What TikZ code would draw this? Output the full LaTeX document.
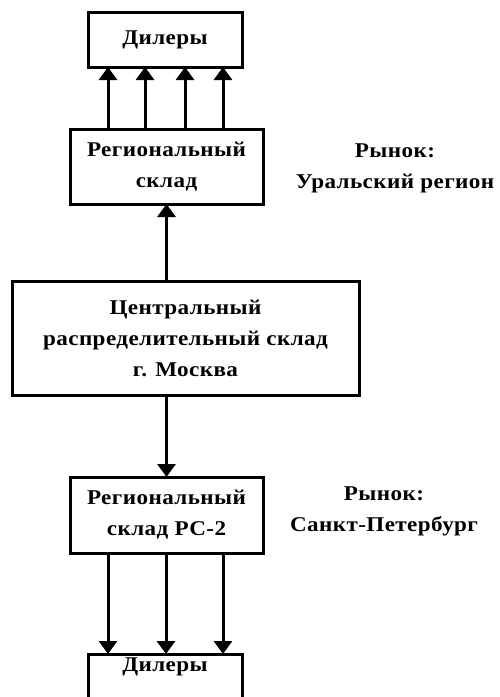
\documentclass[tikz,border=0pt]{standalone}
\usepackage{fontspec}
\setmainfont[LetterSpace=2,FakeStretch=1.1]{Liberation Serif}
\usetikzlibrary{arrows.meta}
\tikzset{
  box/.style={draw, line width=3pt, rectangle, inner sep=0pt, align=center, font=\fontsize{21}{31}\selectfont\bfseries},
  lbl/.style={align=center, inner sep=0pt, font=\fontsize{21}{31}\selectfont\bfseries},
  arr/.style={line width=3pt, -{Triangle[width=18pt,length=13pt]}, shorten >=-1.5pt}
}
\begin{document}
\begin{tikzpicture}[x=1pt,y=-1pt]
\useasboundingbox (0,0) rectangle (499,697);
\node[box, minimum width=154pt, minimum height=55pt] (d1) at (165,39.5) {Дилеры};
\node[box, minimum width=193pt, minimum height=75pt] (r1) at (166.5,166.5) {Региональный\\склад};
\node[box, minimum width=347pt, minimum height=114pt] (c) at (185.5,338) {Центральный\\распределительный склад\\г. Москва};
\node[box, minimum width=193pt, minimum height=76pt] (r2) at (166.5,515) {Региональный\\склад РС-2};
\node[box, minimum width=154pt, minimum height=56pt] (d2) at (165,682) {};
\node[lbl] (d2t) at (165,667) {Дилеры};
\node[lbl] (m1) at (395,168) {Рынок:\\Уральский регион};
\node[lbl] (m2) at (384,511) {Рынок:\\Санкт-Петербург};
\foreach \dx in {-58.5,-21.5,18.5,56.5}
  \draw[arr] ([xshift=\dx pt]r1.north) -- ([xshift=\dx pt]r1.north |- d1.south);
\draw[arr] (c.north -| r1.south) -- (r1.south);
\draw[arr] (c.south -| r2.north) -- (r2.north);
\foreach \dx in {-58.5,-0.5,56.5}
  \draw[arr] ([xshift=\dx pt]r2.south) -- ([xshift=\dx pt]r2.south |- d2.north);
\end{tikzpicture}
\end{document}
